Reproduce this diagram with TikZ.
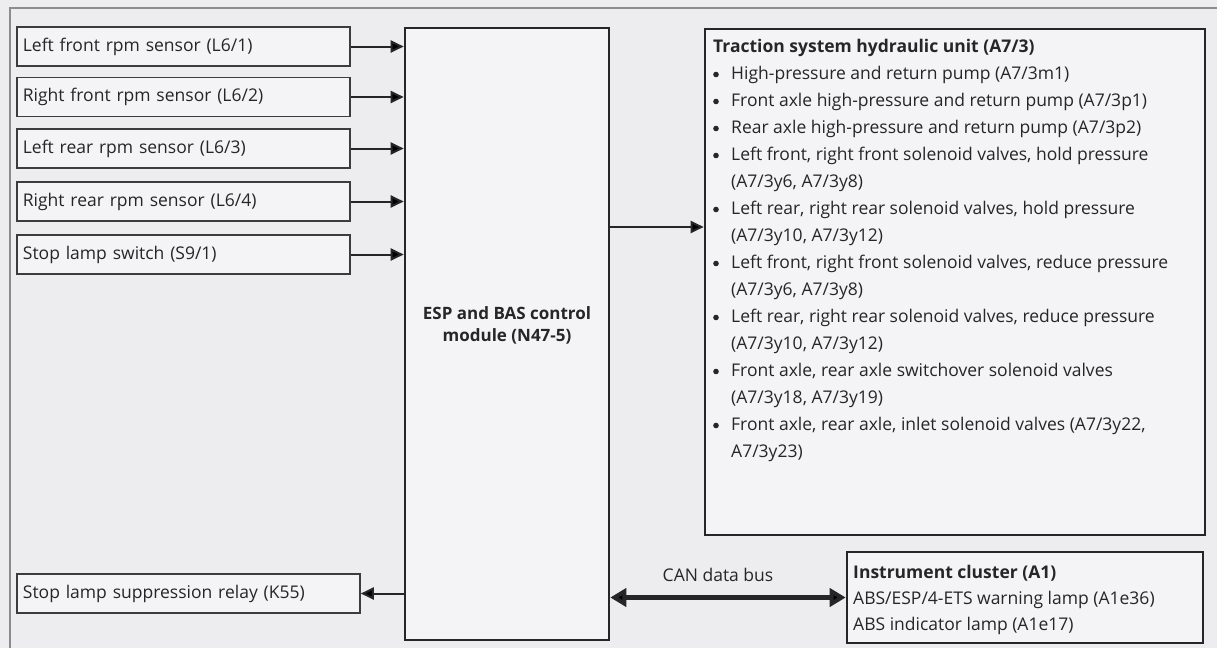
\documentclass[tikz,border=0pt]{standalone}
\usepackage{fontspec}
\setmainfont{Open Sans}
\usetikzlibrary{arrows.meta}
\definecolor{bgc}{HTML}{EDEDF0}
\definecolor{ink}{HTML}{262626}
\definecolor{framec}{HTML}{8C8C8C}
\tikzset{
  x=1pt, y=-1pt,
  every node/.style={text=ink, font=\fontsize{17.5}{27}\selectfont},
  inbox/.style={draw=ink!90, line width=1.8pt, fill=bgc!60!white, rectangle, minimum height=39pt, inner xsep=6pt, align=left, anchor=west},
  bigbox/.style={draw=ink, line width=2.6pt, fill=bgc!60!white, rectangle, inner sep=0pt},
  arr/.style={draw=ink, line width=2pt, -{Triangle[length=13pt,width=12pt]}},
  canarr/.style={draw=ink, line width=5pt, {Triangle[length=16pt,width=18pt]}-{Triangle[length=16pt,width=18pt]}},
}
\newcommand{\blt}{\hbox to 18pt{\tikz[baseline=-5pt]\fill[ink] (0,0) circle (2.8pt);\hfil}}
\begin{document}
\begin{tikzpicture}
\fill[bgc] (0,0) rectangle (1217,648);
\useasboundingbox (0,0) rectangle (1217,648);
\draw[framec, line width=1.5pt] (10,648) -- (10,8) -- (1217,8);

% sensor boxes
\node[inbox, text width=321pt] (s1) at (16,46.5) {Left front rpm sensor (L6/1)};
\node[inbox, text width=321pt] (s2) at (16,97) {Right front rpm sensor (L6/2)};
\node[inbox, text width=321pt] (s3) at (16,148.5) {Left rear rpm sensor (L6/3)};
\node[inbox, text width=321pt] (s4) at (16,201.5) {Right rear rpm sensor (L6/4)};
\node[inbox, text width=321pt] (s5) at (16,254.5) {Stop lamp switch (S9/1)};
\node[inbox, text width=331pt] (relay) at (16,593.5) {Stop lamp suppression relay (K55)};

% ESP module
\node[bigbox, minimum width=204pt, minimum height=612pt] (esp) at (507,334) {};
\node[align=center, font=\fontsize{17}{22}\selectfont\bfseries] (esptext) at (507,325) {ESP and BAS control\\module (N47-5)};

% hydraulic unit
\node[bigbox, minimum width=500pt, minimum height=506pt] (hyd) at (955,282) {};
\node[anchor=north west, align=left, inner sep=0pt] (hydtext) at (713,39) {%
\textbf{Traction system hydraulic unit (A7/3)}\\
\blt High-pressure and return pump (A7/3m1)\\
\blt Front axle high-pressure and return pump (A7/3p1)\\
\blt Rear axle high-pressure and return pump (A7/3p2)\\
\blt Left front, right front solenoid valves, hold pressure\\
\hspace*{18pt}(A7/3y6, A7/3y8)\\
\blt Left rear, right rear solenoid valves, hold pressure\\
\hspace*{18pt}(A7/3y10, A7/3y12)\\
\blt Left front, right front solenoid valves, reduce pressure\\
\hspace*{18pt}(A7/3y6, A7/3y8)\\
\blt Left rear, right rear solenoid valves, reduce pressure\\
\hspace*{18pt}(A7/3y10, A7/3y12)\\
\blt Front axle, rear axle switchover solenoid valves\\
\hspace*{18pt}(A7/3y18, A7/3y19)\\
\blt Front axle, rear axle, inlet solenoid valves (A7/3y22,\\
\hspace*{18pt}A7/3y23)};

% instrument cluster
\node[bigbox, minimum width=356pt, minimum height=91pt] (inst) at (1025,597.5) {};
\node[anchor=north west, align=left, inner sep=0pt, font=\fontsize{17.5}{26}\selectfont] (insttext) at (853,565) {%
\textbf{Instrument cluster (A1)}\\
ABS/ESP/4-ETS warning lamp (A1e36)\\
ABS indicator lamp (A1e17)};

% connectors
\foreach \s in {s1,s2,s3,s4,s5}
  \draw[arr] (\s.east) -- (\s.east -| esp.west);
\draw[arr] (relay.east -| esp.west) -- (relay.east);
\coordinate (hydin) at (hyd.west |- 0,227);
\draw[arr] (esp.east |- hydin) -- (hydin);
\draw[canarr] (esp.east |- inst.west) -- (inst.west);
\node (canlabel) at (718,575) {CAN data bus};
\end{tikzpicture}
\end{document}
